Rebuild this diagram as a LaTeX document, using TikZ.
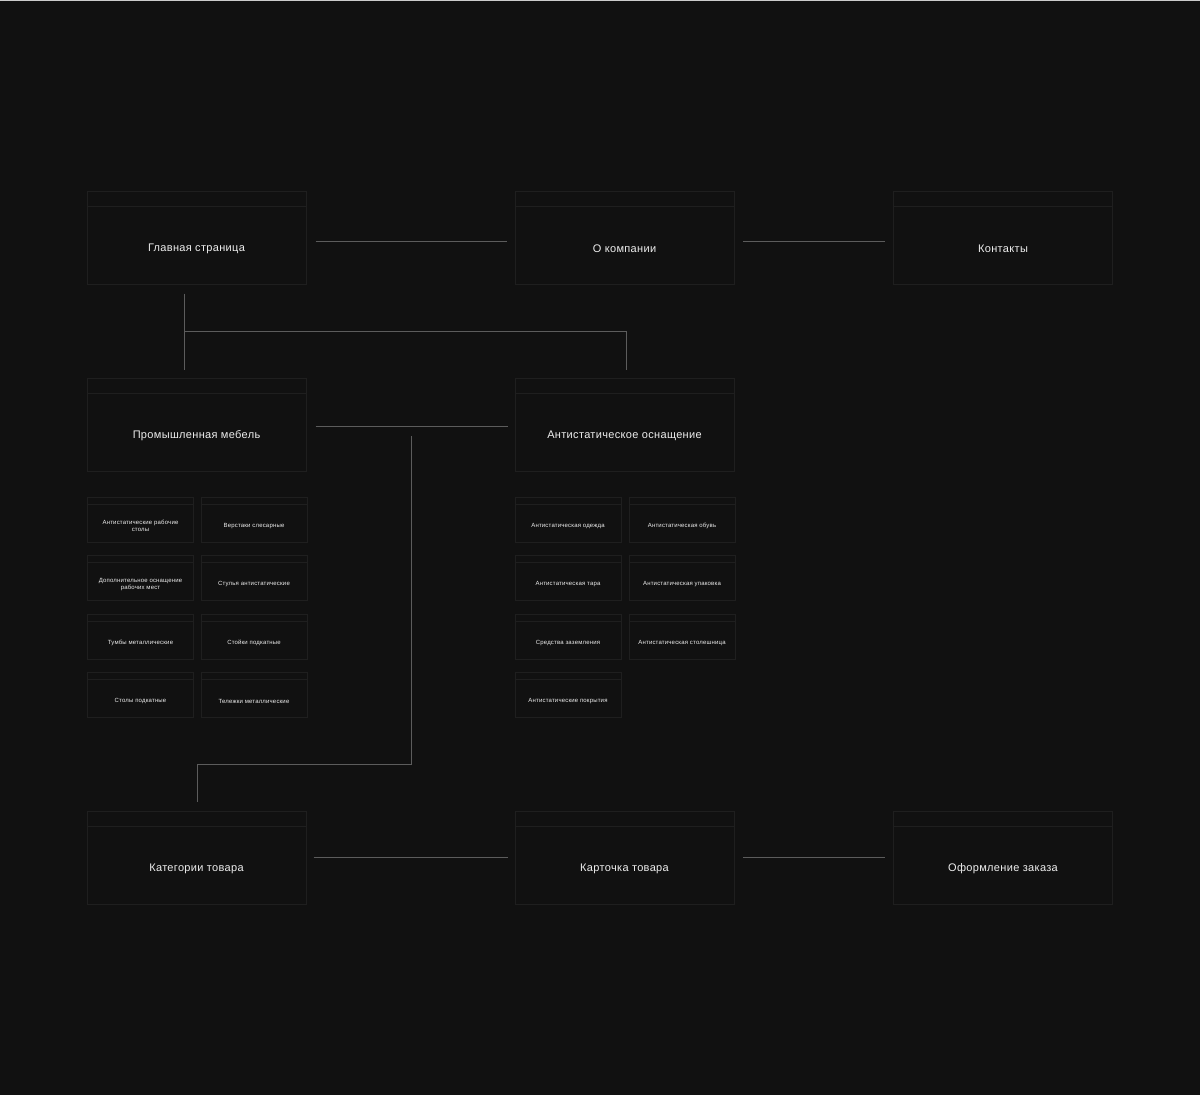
\documentclass[tikz,border=0pt]{standalone}
\usepackage{fontspec}
\setmainfont[LetterSpace=3]{Liberation Sans}
\definecolor{bgdark}{HTML}{111111}
\definecolor{boxline}{HTML}{1F1F1F}
\definecolor{linkgrey}{HTML}{5C5C5C}
\definecolor{txtwhite}{HTML}{EEEEEE}
\usetikzlibrary{positioning, calc}

\tikzset{
	page/.style={draw=boxline, line width=1pt, inner sep=0pt, minimum width=219pt, minimum height=93pt,
		path picture={\draw[boxline, line width=1pt] ([yshift=-15pt]path picture bounding box.north west) -- ([yshift=-15pt]path picture bounding box.north east);}},
	item/.style={draw=boxline, line width=1pt, inner sep=0pt, minimum width=106pt, minimum height=45pt,
		path picture={\draw[boxline, line width=1pt] ([yshift=-7pt]path picture bounding box.north west) -- ([yshift=-7pt]path picture bounding box.north east);}},
	title/.style={text=txtwhite, inner sep=0pt, font=\fontsize{11}{13}\selectfont},
	itemtext/.style={text=txtwhite, inner sep=0pt, align=center, font=\fontsize{6}{7}\selectfont},
	link/.style={draw=linkgrey, line width=1pt},
}

\begin{document}
\begin{tikzpicture}[x=1pt, y=-1pt]
	\fill[bgdark] (0,0) rectangle (1200,1095);
	\useasboundingbox (0,0) rectangle (1200,1095);
	\draw[color=gray!40, line width=1pt] (0,0.5) -- (1200,0.5);

	% top row
	\node at (196.5,237.5) [page] (home) {};
	\node at ([yshift=-11.5pt]home.center) [title] (home-t) {Главная страница};
	\node at (624.5,237.5) [page] (about) {};
	\node at ([yshift=-11.5pt]about.center) [title] (about-t) {О компании};
	\node at (1003,237.5) [page] (contacts) {};
	\node at ([yshift=-11.5pt]contacts.center) [title] (contacts-t) {Контакты};

	% catalogue sections
	\node at (196.5,425) [page] (furn) {};
	\node at ([yshift=-11pt]furn.center) [title] (furn-t) {Промышленная мебель};
	\node at (624.5,425) [page] (anti) {};
	\node at ([yshift=-11pt]anti.center) [title] (anti-t) {Антистатическое оснащение};

	\foreach \i/\y/\txt in {1/519.5/{Антистатические рабочие\\столы}, 2/578/{Дополнительное оснащение\\рабочих мест}, 3/636.5/{Тумбы металлические}, 4/694.5/{Столы подкатные}}{
		\node at (140.5,\y) [item] (fa-\i) {};
		\node at ([yshift=-6.5pt]fa-\i.center) [itemtext] (fa-\i-t) {\txt};
	}
	\foreach \i/\y/\txt in {1/519.5/{Верстаки слесарные}, 2/578/{Стулья антистатические}, 3/636.5/{Стойки подкатные}, 4/694.5/{Тележки металлические}}{
		\node at (254,\y) [item] (fb-\i) {};
		\node at ([yshift=-6.5pt]fb-\i.center) [itemtext] (fb-\i-t) {\txt};
	}
	\foreach \i/\y/\txt in {1/519.5/{Антистатическая одежда}, 2/578/{Антистатическая тара}, 3/636.5/{Средства заземления}, 4/694.5/{Антистатические покрытия}}{
		\node at (568,\y) [item] (aa-\i) {};
		\node at ([yshift=-6.5pt]aa-\i.center) [itemtext] (aa-\i-t) {\txt};
	}
	\foreach \i/\y/\txt in {1/519.5/{Антистатическая обувь}, 2/578/{Антистатическая упаковка}, 3/636.5/{Антистатическая столешница}}{
		\node at (682,\y) [item] (ab-\i) {};
		\node at ([yshift=-6.5pt]ab-\i.center) [itemtext] (ab-\i-t) {\txt};
	}

	% bottom row
	\node at (196.5,857.5) [page] (cat) {};
	\node at ([yshift=-11.5pt]cat.center) [title] (cat-t) {Категории товара};
	\node at (624.5,857.5) [page] (card) {};
	\node at ([yshift=-11.5pt]card.center) [title] (card-t) {Карточка товара};
	\node at (1003,857.5) [page] (order) {};
	\node at ([yshift=-11.5pt]order.center) [title] (order-t) {Оформление заказа};

	% links
	\coordinate (fork) at (184,331);
	\coordinate (drop) at (411,436);
	\coordinate (bend) at (411,764);
	\draw[link] ([xshift=9pt,yshift=-3.5pt]home.east) -- ([xshift=-8pt,yshift=-3.5pt]about.west);
	\draw[link] ([xshift=8.5pt,yshift=-3.5pt]about.east) -- ([xshift=-8pt,yshift=-3.5pt]contacts.west);
	\draw[link] ([xshift=-12.5pt,yshift=-9pt]home.south) -- ([xshift=-12.5pt,yshift=8pt]furn.north);
	\draw[link] (fork) -| ([xshift=1.5pt,yshift=8pt]anti.north);
	\draw[link] ([xshift=9pt,yshift=-1pt]furn.east) -- ([xshift=-7pt,yshift=-1pt]anti.west);
	\draw[link] (drop) -- (bend) -| ([xshift=.5pt,yshift=9pt]cat.north);
	\draw[link] ([xshift=7pt]cat.east) -- ([xshift=-7pt]card.west);
	\draw[link] ([xshift=8.5pt]card.east) -- ([xshift=-8pt]order.west);
\end{tikzpicture}
\end{document}
